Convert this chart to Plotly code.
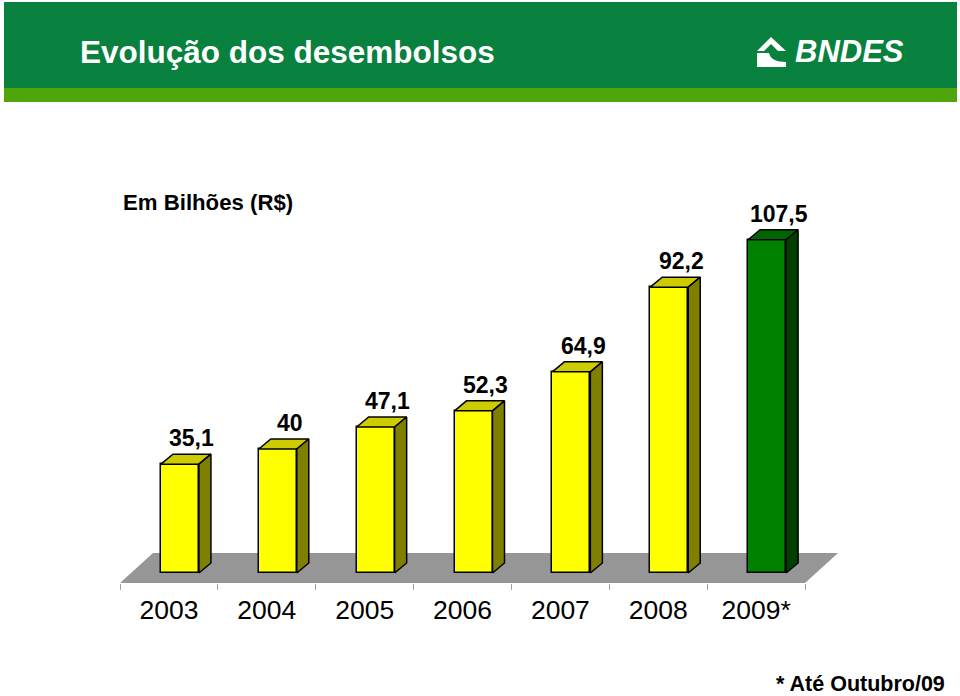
import plotly.graph_objects as go

# ---- data ----
years = ["2003", "2004", "2005", "2006", "2007", "2008", "2009*"]
values = [35.1, 40.0, 47.1, 52.3, 64.9, 92.2, 107.5]
value_labels = ["35,1", "40", "47,1", "52,3", "64,9", "92,2", "107,5"]
partial_year = [False, False, False, False, False, False, True]

title_text = "Evolução dos desembolsos"
unit_text = "Em Bilhões (R$)"
note_text = "* Até Outubro/09"

# ---- layout geometry (pixels) ----
W, H = 960, 696
ML, MR, MT, MB = 100, 100, 110, 113
PW, PH = W - ML - MR, H - MT - MB
CAT_PX = 97.86          # pixels per category
VAL_PX = 3.1            # pixels per value unit
X0_PX = 120             # pixel of first category boundary (floor front)

def dx(px):
    return px / CAT_PX

def dy(px):
    return px / VAL_PX

x_range = [(ML - X0_PX) / CAT_PX, (ML + PW - X0_PX) / CAT_PX]
y_range = [0, PH / VAL_PX]

def pxx(px):
    return (px - ML) / PW

def pxy(py):
    return (H - MB - py) / PH

n = len(years)
floor_dx, floor_dy = dx(33), dy(30)
front_dx, front_dy = dx(11), dy(10)
depth_dx, depth_dy = dx(12), dy(10)
bar_w = dx(38)

front_col = {False: "#FFFF00", True: "#008000"}
top_col = {False: "#CCCC00", True: "#006400"}
side_col = {False: "#808000", True: "#004000"}

FONT = "Liberation Sans, Arial, sans-serif"

fig = go.Figure()

centers = [i + 0.5 + front_dx for i in range(n)]

# front faces
fig.add_trace(go.Bar(
    x=centers, y=values, base=front_dy, width=bar_w,
    marker=dict(color=[front_col[p] for p in partial_year],
                line=dict(color="black", width=1.5)),
    hoverinfo="skip", showlegend=False,
))

# top and side faces
for c, v, p in zip(centers, values, partial_year):
    xl, xr = c - bar_w / 2, c + bar_w / 2
    yt = front_dy + v
    fig.add_trace(go.Scatter(
        x=[xl, xr, xr + depth_dx, xl + depth_dx, xl],
        y=[yt, yt, yt + depth_dy, yt + depth_dy, yt],
        mode="lines", fill="toself", fillcolor=top_col[p],
        line=dict(color="black", width=1.5), hoverinfo="skip", showlegend=False,
    ))
    fig.add_trace(go.Scatter(
        x=[xr, xr + depth_dx, xr + depth_dx, xr, xr],
        y=[front_dy, front_dy + depth_dy, yt + depth_dy, yt, front_dy],
        mode="lines", fill="toself", fillcolor=side_col[p],
        line=dict(color="black", width=1.5), hoverinfo="skip", showlegend=False,
    ))

# value labels
annotations = []
for c, v, lab in zip(centers, values, value_labels):
    annotations.append(dict(
        x=c + depth_dx, y=front_dy + v + depth_dy, xref="x", yref="y",
        text=lab, showarrow=False, xanchor="center", yanchor="bottom", yshift=1,
        font=dict(family=FONT, size=23, color="black", weight="bold"),
    ))

# texts
annotations += [
    dict(x=pxx(78), y=pxy(52), xref="paper", yref="paper", text=title_text,
         showarrow=False, xanchor="left", yanchor="middle",
         font=dict(family=FONT, size=31.5, color="white", weight="bold")),
    dict(x=pxx(793), y=pxy(52), xref="paper", yref="paper", text="<i>BNDES</i>",
         showarrow=False, xanchor="left", yanchor="middle",
         font=dict(family=FONT, size=31, color="white", weight="bold")),
    dict(x=pxx(121), y=pxy(202), xref="paper", yref="paper", text=unit_text,
         showarrow=False, xanchor="left", yanchor="middle",
         font=dict(family=FONT, size=22.2, color="black", weight="bold")),
    dict(x=pxx(947), y=pxy(684), xref="paper", yref="paper", text=note_text,
         showarrow=False, xanchor="right", yanchor="middle",
         font=dict(family=FONT, size=21.5, color="black", weight="bold")),
]

shapes = [
    # floor
    dict(type="path", xref="x", yref="y", layer="below",
         path=f"M 0 0 L {n} 0 L {n + floor_dx} {floor_dy} L {floor_dx} {floor_dy} Z",
         fillcolor="#969696", line=dict(width=0)),
    # header
    dict(type="rect", xref="paper", yref="paper", x0=pxx(4), x1=pxx(957),
         y0=pxy(88), y1=pxy(2), fillcolor="#08803E", line=dict(width=0)),
    dict(type="rect", xref="paper", yref="paper", x0=pxx(4), x1=pxx(957),
         y0=pxy(102), y1=pxy(88), fillcolor="#4FA60B", line=dict(width=0)),
    # logo symbol
    dict(type="path", xref="paper", yref="paper",
         path=(f"M {pxx(757)} {pxy(51)} L {pxx(771)} {pxy(37)} L {pxx(786)} {pxy(51)} "
               f"L {pxx(778)} {pxy(51)} L {pxx(771)} {pxy(44)} L {pxx(764)} {pxy(51)} Z"),
         fillcolor="white", line=dict(width=0)),
    dict(type="path", xref="paper", yref="paper",
         path=(f"M {pxx(757)} {pxy(53)} L {pxx(769)} {pxy(53)} "
               f"Q {pxx(771)} {pxy(62)} {pxx(786)} {pxy(62)} L {pxx(786)} {pxy(67)} "
               f"L {pxx(757)} {pxy(67)} Z"),
         fillcolor="white", line=dict(width=0)),
]

fig.update_layout(
    width=W, height=H, autosize=False,
    margin=dict(l=ML, r=MR, t=MT, b=MB, pad=0),
    paper_bgcolor="white", plot_bgcolor="white",
    showlegend=False, bargap=0,
    xaxis=dict(range=x_range, tickvals=[i + 0.5 for i in range(n)], ticktext=years,
               ticks="outside", ticklen=3, tickcolor="rgba(0,0,0,0)",
               showgrid=False, zeroline=False, showline=False,
               tickfont=dict(family=FONT, size=26.5, color="black")),
    xaxis2=dict(range=x_range, overlaying="x", anchor="y", side="bottom",
                tickvals=list(range(n + 1)), ticks="outside", ticklen=6,
                tickcolor="#A0A0A0", tickwidth=1, showticklabels=False,
                showgrid=False, zeroline=False, showline=False),
    yaxis=dict(range=y_range, visible=False, showgrid=False, zeroline=False),
    annotations=annotations, shapes=shapes,
)

# dummy trace to activate xaxis2
fig.add_trace(go.Scatter(x=[None], y=[None], xaxis="x2", yaxis="y",
                         hoverinfo="skip", showlegend=False))

fig.write_html("out.html", config={"displayModeBar": False},
               post_script="document.body.style.margin='0';document.body.style.padding='0';")
